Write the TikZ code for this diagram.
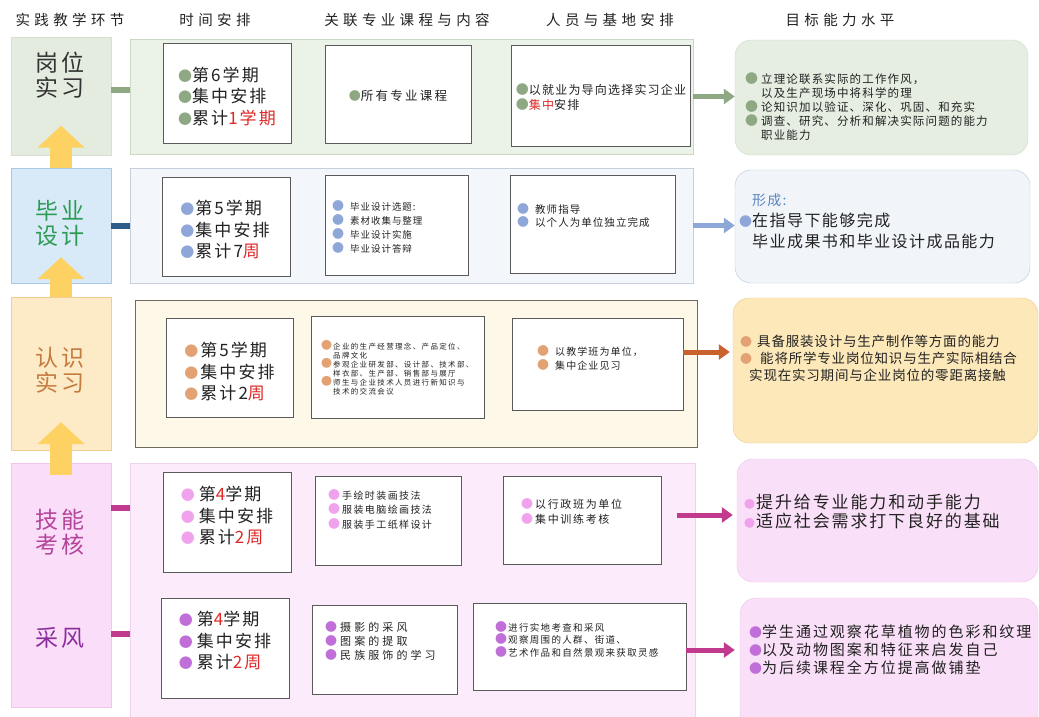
\documentclass[tikz,border=0pt]{standalone}
\usepackage{fontspec}
\setmainfont{Noto Sans CJK SC}
\usetikzlibrary{arrows.meta,calc}

% row colours
\definecolor{gwfill}{HTML}{E3ECDF}
\definecolor{gwline}{HTML}{D5E0CF}
\definecolor{gwband}{HTML}{EBF2E8}
\definecolor{gwbandline}{HTML}{CBD8C4}
\definecolor{gwdot}{HTML}{8FA884}
\definecolor{gwtext}{HTML}{333333}
\definecolor{gwgoal}{HTML}{E5EEE1}
\definecolor{gwgoalline}{HTML}{CDDBC6}

\definecolor{byfill}{HTML}{D8EAF8}
\definecolor{byline}{HTML}{A9C9E6}
\definecolor{byband}{HTML}{F3F7FB}
\definecolor{bybandline}{HTML}{C5D0DC}
\definecolor{bydot}{HTML}{8EA6D8}
\definecolor{bytext}{HTML}{2E9B55}
\definecolor{bylink}{HTML}{2F5D8A}
\definecolor{bygoal}{HTML}{F1F5FA}
\definecolor{bygoalline}{HTML}{B9C6D6}
\definecolor{byhint}{HTML}{5A86BF}

\definecolor{rsfill}{HTML}{FDEAC6}
\definecolor{rsline}{HTML}{F2CE95}
\definecolor{rsband}{HTML}{FDF8E8}
\definecolor{rsbandline}{HTML}{6E6A60}
\definecolor{rsdot}{HTML}{E3A274}
\definecolor{rstext}{HTML}{C57A3E}
\definecolor{rslink}{HTML}{C9622C}
\definecolor{rsgoal}{HTML}{FDE8B9}
\definecolor{rsgoalline}{HTML}{EACB8E}

\definecolor{jkfill}{HTML}{FADDF8}
\definecolor{jkline}{HTML}{F2C4EE}
\definecolor{jkband}{HTML}{FCECFB}
\definecolor{jkbandline}{HTML}{EFD2EE}
\definecolor{jkdot}{HTML}{F0A2EC}
\definecolor{jktext}{HTML}{B4449A}
\definecolor{jklink}{HTML}{C23A8E}
\definecolor{jkgoal}{HTML}{FADFF8}
\definecolor{jkgoalline}{HTML}{EFC2EC}
\definecolor{cftext}{HTML}{8C2C9E}
\definecolor{cfdot}{HTML}{C06FD8}

\definecolor{cellline}{HTML}{5A5A5A}
\definecolor{hotred}{HTML}{E02828}
\definecolor{upyellow}{HTML}{FDD262}
\definecolor{ink}{HTML}{222222}

\newcommand\fs[3]{\fontsize{#1}{#2}\selectfont\addfontfeature{LetterSpace=#3}}
\newcommand\bul[2]{\smash{\fontsize{#1}{#1}\selectfont\textcolor{#2}{●}}}
\newcommand\hot[1]{\textcolor{hotred}{#1}}

\begin{document}
\begin{tikzpicture}[x=1pt, y=-1pt,
    every node/.append style={text=ink},
    stage/.style ={draw=#1line, fill=#1fill, inner sep=0pt, minimum width=100pt},
    band/.style ={draw=#1bandline, fill=#1band, inner sep=0pt},
    cell/.style ={draw=cellline, fill=white, inner sep=0pt, line width=0.8pt},
    goal/.style ={draw=#1goalline, fill=#1goal, rounded corners=16pt, inner sep=0pt},
    head/.style ={inner sep=0pt, font=\fs{14.5}{16}{30}},
    lab/.style ={align=center, inner sep=0pt, font=\fs{23}{25}{16}},
    tx/.style ={align=left, inner sep=0pt},
    link/.style ={draw=#1, line width=6pt},
    push/.style ={draw=#1, line width=5pt, -{Triangle[length=11pt, width=15pt]}},
    rise/.style ={draw=upyellow, line width=22pt, -{Triangle[length=22pt, width=46pt]}}]
   \useasboundingbox[fill=white] (0,0) rectangle (1039,716);

   % column heads
   \node[head] (h1) at (70,20) {实践教学环节};
   \node[head] (h2) at (215,20) {时间安排};
   \node[head] (h3) at (407,20) {关联专业课程与内容};
   \node[head] (h4) at (610,20) {人员与基地安排};
   \node[head] (h5) at (840,20) {目标能力水平};

   % bands
   \node[band=gw, minimum width=563pt, minimum height=115pt] (gwb) at (411.5,96.5) {};
   \node[band=by, minimum width=563pt, minimum height=115pt] (byb) at (411.5,225.5) {};
   \node[band=rs, minimum width=562pt, minimum height=147pt] (rsb) at (416,373.5) {};
   \node[band=jk, minimum width=565pt, minimum height=257pt] (jkb) at (412.5,591.5) {};

   % stages
   \node[stage=gw, minimum height=118pt] (gw) at (61,96.5) {};
   \node[stage=by, minimum height=115pt] (by) at (61,225.5) {};
   \node[stage=rs, minimum height=153pt] (rs) at (61,373.5) {};
   \node[stage=jk, minimum height=244pt] (jk) at (61,585) {};

   \node[lab, text=gwtext] (gwl) at (60,75) {岗位\\实习};
   \node[lab, text=bytext] (byl) at (60,223) {毕业\\设计};
   \node[lab, text=rstext] (rsl) at (60,370) {认识\\实习};
   \node[lab, text=jktext] (jkl) at (60,532) {技能\\考核};
   \node[lab, text=cftext] (cfl) at (60,638) {采风};

   \draw[rise] (by.north) -- ([yshift=30pt]gw.south);
   \draw[rise] (rs.north) -- ([yshift=26pt]by.south);
   \draw[rise] ([yshift=-12pt]jk.north) -- ([yshift=28pt]rs.south);

   % cells
   \node[cell, minimum width=128pt, minimum height=100pt] (t1) at (227,93) {};
   \node[cell, minimum width=146pt, minimum height=98pt] (c1) at (398,94) {};
   \node[cell, minimum width=179pt, minimum height=101pt] (p1) at (600.5,95.5) {};
   \node[cell, minimum width=128pt, minimum height=99pt] (t2) at (226,226.5) {};
   \node[cell, minimum width=143pt, minimum height=100pt] (c2) at (396.5,225) {};
   \node[cell, minimum width=165pt, minimum height=98pt] (p2) at (592.5,224) {};
   \node[cell, minimum width=127pt, minimum height=99pt] (t3) at (229.5,367.5) {};
   \node[cell, minimum width=173pt, minimum height=102pt] (c3) at (397.5,367) {};
   \node[cell, minimum width=171pt, minimum height=92pt] (p3) at (597.5,364) {};
   \node[cell, minimum width=128pt, minimum height=100pt] (t4) at (227,522) {};
   \node[cell, minimum width=146pt, minimum height=89pt] (c4) at (388,520.5) {};
   \node[cell, minimum width=158pt, minimum height=88pt] (p4) at (582,520) {};
   \node[cell, minimum width=128pt, minimum height=100pt] (t5) at (225,648) {};
   \node[cell, minimum width=145pt, minimum height=89pt] (c5) at (384.5,649.5) {};
   \node[cell, minimum width=213pt, minimum height=87pt] (p5) at (579.5,646.5) {};

   % goals
   \node[goal=gw, minimum width=293pt, minimum height=115pt] (g1) at (881.5,97.5) {};
   \node[goal=by, minimum width=295pt, minimum height=113pt] (g2) at (882.5,226.5) {};
   \node[goal=rs, minimum width=305pt, minimum height=145pt] (g3) at (885.5,370.5) {};
   \node[goal=jk, minimum width=301pt, minimum height=123pt] (g4) at (887.5,520.5) {};
   \node[goal=jk, minimum width=298pt, minimum height=132pt] (g5) at (889,664) {};

   % links and arrows
   \draw[link=gwdot] ([yshift=6.5pt]gw.east) -- ([yshift=6.5pt]gwb.west);
   \draw[link=bylink] (by.east) -- (byb.west);
   \draw[link=jklink] ([yshift=77pt]jk.east) -- ([yshift=83.5pt]jkb.west);
   \draw[link=jklink] ([yshift=-49pt]jk.east) -- ([yshift=-42.5pt]jkb.west);

   \draw[push=gwdot] (gwb.east) -- (gwb.east -| g1.west);
   \draw[push=bydot] (byb.east) -- (byb.east -| g2.west);
   \draw[push=rslink] ($(p3.east)+(0,-12)$) -- ($(p3.east -| g3.west)+(-3,-12)$);
   \draw[push=jklink] ($(p4.east)+(16,-5)$) -- ($(p4.east -| g4.west)+(-4,-5)$);
   \draw[push=jklink] ($(p5.east)+(0,3.5)$) -- ($(p5.east -| g5.west)+(-5,3.5)$);

   % texts, row 1
   \node[tx, font=\fs{17}{21.5}{12}] (t1x) at (227,96)
     {\bul{14}{gwdot}第6学期\\\bul{14}{gwdot}集中安排\\\bul{14}{gwdot}累计\hot{1学期}};
   \node[tx, font=\fs{12.5}{15}{18}] (c1x) at (398,96) {\bul{12}{gwdot}所有专业课程};
   \node[tx, font=\fs{12}{15}{10}] (p1x) at (601,97)
     {\bul{13}{gwdot}以就业为导向选择实习企业\\\bul{13}{gwdot}\hot{集中}安排};
   \node[tx, anchor=west, font=\fs{11.5}{14}{10}] (g1x) at (761,107)
     {\llap{\bul{13}{gwdot}\hspace{3pt}}立理论联系实际的工作作风，\\
      以及生产现场中将科学的理\\
      \llap{\bul{13}{gwdot}\hspace{3pt}}论知识加以验证、深化、巩固、和充实\\
      \llap{\bul{13}{gwdot}\hspace{3pt}}调查、研究、分析和解决实际问题的能力\\
      职业能力};

   % row 2
   \node[tx, font=\fs{17}{21.5}{12}] (t2x) at (225,230)
     {\bul{14}{bydot}\hspace{1pt}第5学期\\\bul{14}{bydot}\hspace{1pt}集中安排\\\bul{14}{bydot}\hspace{1pt}累计7\hot{周}};
   \node[tx, anchor=west, font=\fs{9.5}{14}{10}] (c2x) at (350,228)
     {\llap{\bul{12}{bydot}\hspace{6pt}}毕业设计选题:\\\llap{\bul{12}{bydot}\hspace{6pt}}素材收集与整理\\
      \llap{\bul{12}{bydot}\hspace{6pt}}毕业设计实施\\\llap{\bul{12}{bydot}\hspace{6pt}}毕业设计答辩};
   \node[tx, anchor=west, font=\fs{10.5}{13}{10}] (p2x) at (535,216)
     {\llap{\bul{12}{bydot}\hspace{6pt}}教师指导\\\llap{\bul{12}{bydot}\hspace{6pt}}以个人为单位独立完成};
   \node[tx, anchor=west, font=\fs{16}{21}{9}] (g2x) at (752,221)
     {{\fontsize{14}{21}\selectfont\color{byhint}形成:}\\
      \llap{\bul{13}{bydot}}在指导下能够完成\\
      毕业成果书和毕业设计成品能力};

   % row 3
   \node[tx, font=\fs{17}{21.5}{12}] (t3x) at (229.5,372)
     {\bul{14}{rsdot}\hspace{2pt}第5学期\\\bul{14}{rsdot}\hspace{2pt}集中安排\\\bul{14}{rsdot}\hspace{2pt}累计2\hot{周}};
   \node[tx, anchor=west, font=\fs{7.5}{9}{18}] (c3x) at (333,369)
     {\llap{\bul{11}{rsdot}\hspace{1pt}}企业的生产经营理念、产品定位、\\
      品牌文化\\
      \llap{\bul{11}{rsdot}\hspace{1pt}}参观企业研发部、设计部、技术部、\\
      样衣部、生产部、销售部与展厅\\
      \llap{\bul{11}{rsdot}\hspace{1pt}}师生与企业技术人员进行新知识与\\
      技术的交流会议};
   \node[tx, anchor=west, font=\fs{10}{14}{11}] (p3x) at (537,359)
     {\bul{12}{rsdot}\hspace{6pt}以教学班为单位，\\\bul{12}{rsdot}\hspace{6pt}集中企业见习};
   \node[tx, anchor=west, font=\fs{13.5}{17}{6}] (g3x) at (757,358)
     {\llap{\bul{12}{rsdot}\hspace{5pt}}具备服装设计与生产制作等方面的能力\\
      \llap{\bul{12}{rsdot}\hspace{5pt}}\hspace*{3pt}能将所学专业岗位知识与生产实际相结合\\
      \hspace*{-8pt}实现在实习期间与企业岗位的零距离接触};

   % row 4
   \node[tx, font=\fs{17}{21.5}{12}] (t4x) at (227,516)
     {\bul{14}{jkdot}\hspace{4pt}第\hot{4}学期\\\bul{14}{jkdot}\hspace{4pt}集中安排\\\bul{14}{jkdot}\hspace{4pt}累计\hot{2周}};
   \node[tx, anchor=west, font=\fs{10}{14.5}{14}] (c4x) at (342,510)
     {\llap{\bul{12}{jkdot}\hspace{2pt}}手绘时装画技法\\
      \llap{\bul{12}{jkdot}\hspace{2pt}}服装电脑绘画技法\\
      \llap{\bul{12}{jkdot}\hspace{2pt}}服装手工纸样设计};
   \node[tx, anchor=west, font=\fs{11}{15}{15}] (p4x) at (535,512)
     {\llap{\bul{12}{jkdot}\hspace{2pt}}以行政班为单位\\\llap{\bul{12}{jkdot}\hspace{2pt}}集中训练考核};
   \node[tx, anchor=west, font=\fs{17}{19}{11}] (g4x) at (756,512)
     {\llap{\bul{11}{jkdot}\hspace{1pt}}提升给专业能力和动手能力\\
      \llap{\bul{11}{jkdot}\hspace{1pt}}适应社会需求打下良好的基础};

   % row 5
   \node[tx, font=\fs{17}{21.5}{12}] (t5x) at (225,641)
     {\bul{14}{cfdot}\hspace{4pt}第\hot{4}学期\\\bul{14}{cfdot}\hspace{4pt}集中安排\\\bul{14}{cfdot}\hspace{4pt}累计\hot{2周}};
   \node[tx, anchor=west, font=\fs{11}{14}{28}] (c5x) at (340,641)
     {\llap{\bul{12}{cfdot}\hspace{3pt}}摄影的采风\\
      \llap{\bul{12}{cfdot}\hspace{3pt}}图案的提取\\
      \llap{\bul{12}{cfdot}\hspace{3pt}}民族服饰的学习};
   \node[tx, anchor=west, font=\fs{9.5}{12.5}{14}] (p5x) at (508,640)
     {\llap{\bul{12}{cfdot}\hspace{1pt}}进行实地考查和采风\\
      \llap{\bul{12}{cfdot}\hspace{1pt}}观察周围的人群、街道、\\
      \llap{\bul{12}{cfdot}\hspace{1pt}}艺术作品和自然景观来获取灵感};
   \node[tx, anchor=west, font=\fs{15}{18}{13}] (g5x) at (762,650)
     {\llap{\bul{13}{cfdot}}学生通过观察花草植物的色彩和纹理\\
      \llap{\bul{13}{cfdot}}以及动物图案和特征来启发自己\\
      \llap{\bul{13}{cfdot}}为后续课程全方位提高做铺垫};
 \end{tikzpicture}
\end{document}
